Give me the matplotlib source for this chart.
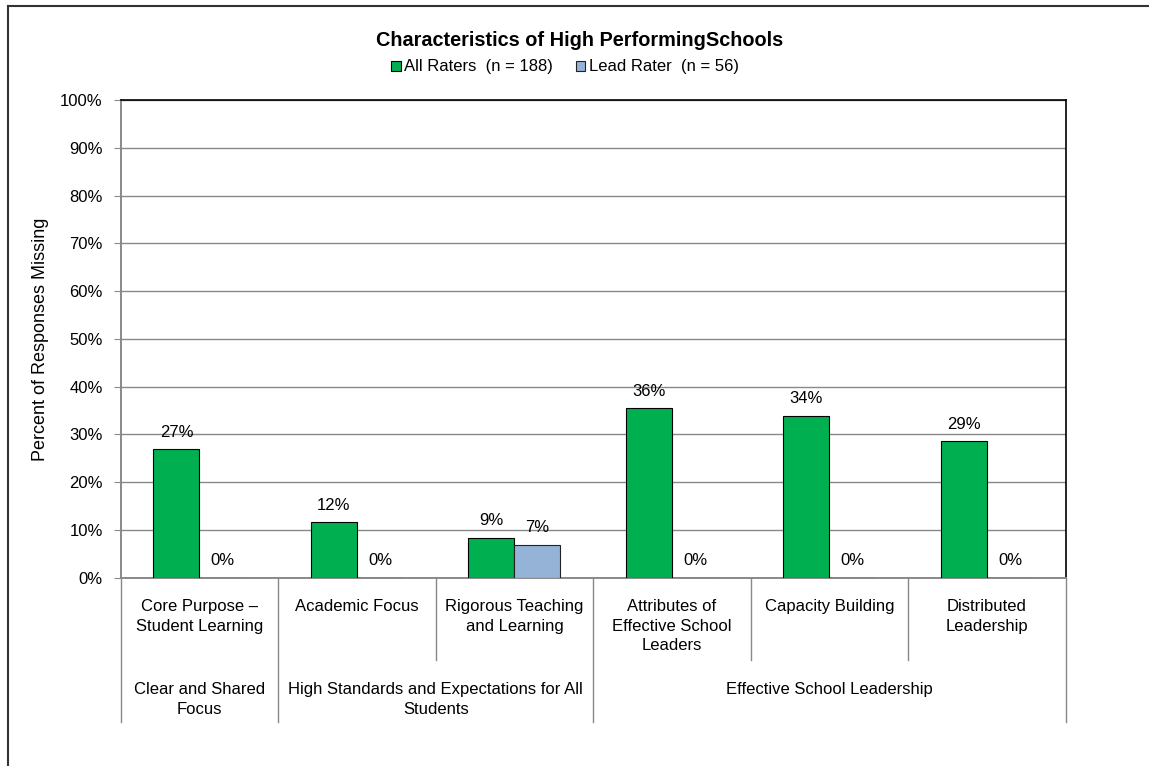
import matplotlib
matplotlib.use("Agg")
import matplotlib.pyplot as plt
from matplotlib.patches import Patch
from matplotlib.lines import Line2D
import matplotlib.transforms as mtransforms
import numpy as np

plt.rcParams['font.family'] = ['Liberation Sans', 'DejaVu Sans']

categories = ["Core Purpose \u2013\nStudent Learning", "Academic Focus",
              "Rigorous Teaching\nand Learning", "Attributes of\nEffective School\nLeaders",
              "Capacity Building", "Distributed\nLeadership"]
groups = ["Clear and Shared\nFocus", "High Standards and Expectations for All\nStudents",
          "Effective School Leadership"]
group_spans = [(0, 0), (1, 2), (3, 5)]
all_raters = [26.9, 11.6, 8.4, 35.5, 33.9, 28.6]
lead_rater = [0.0, 0.0, 6.9, 0.0, 0.0, 0.0]
all_labels = ["27%", "12%", "9%", "36%", "34%", "29%"]
lead_labels = ["0%", "0%", "7%", "0%", "0%", "0%"]
series_names = ["All Raters  (n = 188)", "Lead Rater  (n = 56)"]
yticks = list(range(0, 101, 10))

green = "#00B050"
blue = "#95B3D7"
grey = "#898989"
FS = 12

W, H = 1149, 766
fig = plt.figure(figsize=(W / 100, H / 100), dpi=100)
ax = fig.add_axes([120.7 / W, 1 - 577.7 / H, 945 / W, 477.7 / H])

x = np.arange(len(categories))
bw = 0.292
ax.bar(x - bw / 2, all_raters, width=bw, color=green, edgecolor="black", linewidth=0.8, zorder=3)
ax.bar(x + bw / 2, lead_rater, width=bw, color=blue, edgecolor="#222222", linewidth=0.8, zorder=3)

for xi, v, lab in zip(x, all_raters, all_labels):
    ax.annotate(lab, (xi - bw / 2, v), xytext=(0, 17), textcoords="offset pixels",
                ha="center", va="center", fontsize=FS, color="black")
for xi, v, lab in zip(x, lead_rater, lead_labels):
    ax.annotate(lab, (xi + bw / 2, v), xytext=(0, 17), textcoords="offset pixels",
                ha="center", va="center", fontsize=FS, color="black")

ax.set_xlim(-0.5, len(categories) - 0.5)
ax.set_ylim(0, 100)
ax.set_yticks(yticks)
ax.set_yticklabels([f"{t}%" for t in yticks], fontsize=FS)
ax.tick_params(axis="y", direction="out", length=5, color=grey, pad=8)
ax.set_xticks([])
ax.yaxis.grid(True, color=grey, linewidth=1.0, zorder=0)
ax.set_axisbelow(True)
for s in ["top", "right"]:
    ax.spines[s].set_color("black")
    ax.spines[s].set_linewidth(1.2)
for s in ["left", "bottom"]:
    ax.spines[s].set_color(grey)
    ax.spines[s].set_linewidth(1.4)
ax.set_ylabel("Percent of Responses Missing", fontsize=13, labelpad=8)

# category axis lines and labels
trans = mtransforms.blended_transform_factory(ax.transData, ax.transAxes)
y_inner = -(660 - 577.7) / 477.7
y_outer = -(722 - 577.7) / 477.7
group_edges = set()
for a, b in group_spans:
    group_edges.add(a - 0.5)
    group_edges.add(b + 0.5)
for e in np.arange(-0.5, len(categories), 1.0):
    yb = y_outer if any(abs(e - g) < 1e-6 for g in group_edges) else y_inner
    ax.plot([e, e], [0, yb], transform=trans, color=grey, linewidth=1.0, clip_on=False)

for xi, lab in zip(x, categories):
    ax.text(xi, -(599 - 577.7) / 477.7, lab, transform=trans, ha="center", va="top",
            fontsize=FS, linespacing=1.38)
for (a, b), lab in zip(group_spans, groups):
    ax.text((a + b) / 2, -(682 - 577.7) / 477.7, lab, transform=trans, ha="center", va="top",
            fontsize=FS, linespacing=1.38)

fig.text(580 / W, 1 - 40 / H, "Characteristics of High PerformingSchools", ha="center",
         va="center", fontsize=14.3, fontweight="bold")

handles = [Patch(facecolor=green, edgecolor="black", linewidth=0.8),
           Patch(facecolor=blue, edgecolor="#222222", linewidth=0.8)]
fig.legend(handles, series_names, loc="center", bbox_to_anchor=(565 / W, 1 - 67 / H), ncol=2,
           frameon=False, fontsize=FS, handlelength=0.55, handleheight=0.55, handletextpad=0.2,
           columnspacing=1.4, borderpad=0)

fig.add_artist(Line2D([8 / W, 8 / W], [0, 1 - 6 / H], color="#333333", linewidth=1.5))
fig.add_artist(Line2D([8 / W, 1], [1 - 6 / H, 1 - 6 / H], color="#333333", linewidth=1.5))

fig.savefig("out.png", dpi=100)
